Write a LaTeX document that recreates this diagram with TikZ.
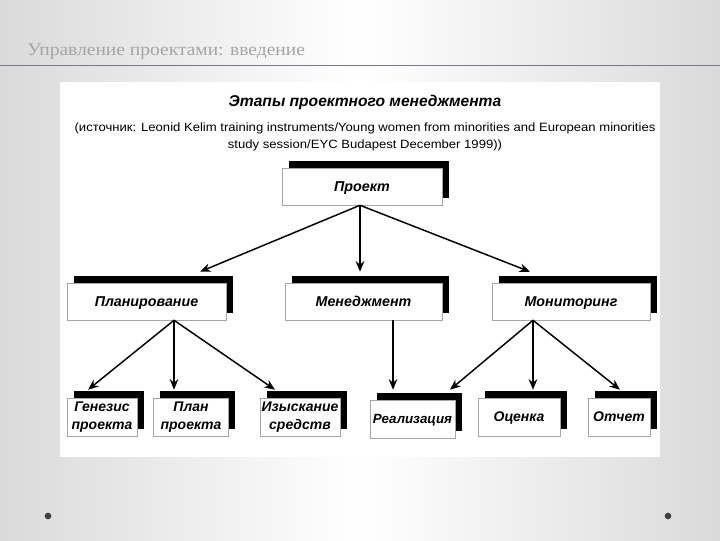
\documentclass[tikz,border=0pt]{standalone}
\usepackage{fontspec}
\setmainfont{Liberation Sans}
\newfontfamily\hdrfont{Liberation Serif}[FakeStretch=1.1]
\newfontfamily\srcfont{Liberation Sans}[FakeStretch=1.09]
\newcommand{\bi}[1]{\textbf{\textit{#1}}}
\usetikzlibrary{arrows.meta,shadows,calc}
\definecolor{hdrgray}{RGB}{165,165,165}
\definecolor{linecol}{RGB}{120,120,150}
\definecolor{bggray}{RGB}{218,218,218}
\begin{document}
\begin{tikzpicture}[x=0.75pt,y=-0.75pt,
  box/.style={draw=gray!70, line width=0.4pt, fill=white,
    font=\bfseries\itshape\fontsize{10.7}{13.5}\selectfont, align=center, inner sep=0pt,
    general shadow={fill=black, shadow xshift=5pt, shadow yshift=5.5pt}},
  one/.style={text height=7.8pt, text depth=0.6pt},
  small/.style={font=\bfseries\itshape\fontsize{10.5}{13.5}\selectfont},
  arr/.style={line width=1.1pt, -{Stealth[length=8pt,width=6.5pt]}}]
\useasboundingbox (0,0) rectangle (720,540);
\shade[left color=bggray, right color=bggray, middle color=white] (0,0) rectangle (720,540);
\fill[white] (60,82) rectangle (660,457);
% header
\node[anchor=west, text=hdrgray, font=\hdrfont\fontsize{13.3}{15}\selectfont, inner sep=0pt] (hdr) at (27,52) {Управление проектами: введение};
\draw[linecol, line width=0.7pt] (0,65) -- (720,65);
% bullets
\fill[gray!50!black] (48,516) circle[radius=2.5pt];
\fill[gray!50!black] (668,516) circle[radius=2.5pt];
% titles
\node[font=\bfseries\itshape\fontsize{11.7}{13}\selectfont] (title) at (365,102) {Этапы проектного менеджмента};
\node[align=center, font=\srcfont\fontsize{9}{12.75}\selectfont] (src) at (365,137) {(источник: Leonid Kelim training instruments/Young women from minorities and European minorities\\ study session/EYC Budapest December 1999))};
% boxes
\node[box, one, minimum width=120pt, minimum height=27.75pt] (proj) at (362,186.5) {Проект};
\node[box, one, minimum width=119.25pt, minimum height=27.75pt] (plan) at (146.5,301.5) {Планирование};
\node[box, one, minimum width=117.75pt, minimum height=27.75pt] (men) at (363.5,301.5) {Менеджмент};
\node[box, one, minimum width=118.5pt, minimum height=27.75pt] (mon) at (571,301.5) {Мониторинг};
\node[box, small, minimum width=52.5pt, minimum height=28.5pt] (gen) at (102,417) {\bi{Генезис}\\\bi{проекта}};
\node[box, small, minimum width=56pt, minimum height=28.5pt] (pp) at (191,417) {\bi{План}\\\bi{проекта}};
\node[box, small, minimum width=60pt, minimum height=28.5pt] (izy) at (300,417) {\bi{Изыскание}\\\bi{средств}};
\node[box, one, font=\bfseries\itshape\fontsize{10}{12}\selectfont, minimum width=63.75pt, minimum height=28.5pt] (real) at (412.5,419) {Реализация};
\node[box, one, small, minimum width=61.5pt, minimum height=28.5pt] (oc) at (519,417) {Оценка};
\node[box, one, small, minimum width=46.5pt, minimum height=28.5pt] (ot) at (619,417) {Отчет};
% arrows
\draw[arr] ($(proj.south)+(-2,0)$) -- ($(plan.north)+(53.5,-11)$);
\draw[arr] ($(proj.south)+(-2,0)$) -- ($(men.north)+(-3.5,-11)$);
\draw[arr] ($(proj.south)+(-2,0)$) -- ($(mon.north)+(-41,-11)$);
\draw[arr] ($(plan.south)+(27.5,0)$) -- ($(gen.north)+(-14,-8)$);
\draw[arr] ($(plan.south)+(27.5,0)$) -- ($(pp.north)+(-17,-8)$);
\draw[arr] ($(plan.south)+(27.5,0)$) -- ($(izy.north)+(-25,-8)$);
\draw[arr] ($(men.south)+(29.5,0)$) -- ($(real.north)+(-19.5,-10)$);
\draw[arr] ($(mon.south)+(-38,0)$) -- ($(real.north)+(37.5,-10)$);
\draw[arr] ($(mon.south)+(-38,0)$) -- ($(oc.north)+(14,-8)$);
\draw[arr] ($(mon.south)+(-38,0)$) -- ($(ot.north)+(1,-8)$);
\end{tikzpicture}
\end{document}
